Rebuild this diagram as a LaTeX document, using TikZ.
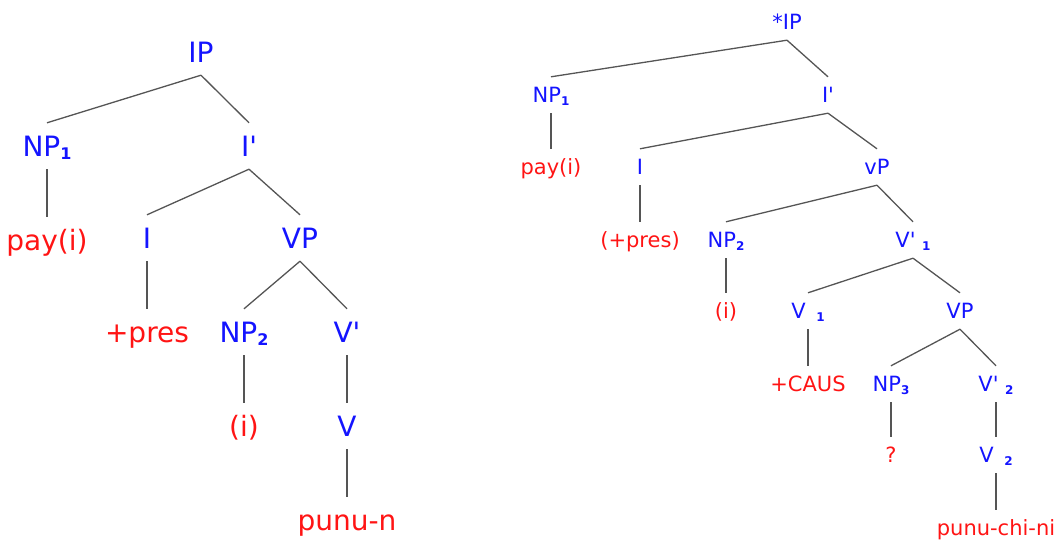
\documentclass[tikz,border=0pt]{standalone}
\usepackage{fontspec}
\setmainfont{DejaVu Sans}
\usepackage{xcolor}

\definecolor{catblue}{RGB}{20,20,255}
\definecolor{wordred}{RGB}{255,20,20}
\definecolor{branchgray}{RGB}{85,85,85}

% subscripts for the two tree sizes
\newcommand{\bigsub}[1]{\raisebox{-3pt}{\fontsize{16}{16}\selectfont\bfseries #1}}
\newcommand{\smallsub}[1]{\raisebox{-3pt}{\fontsize{12}{12}\selectfont\bfseries #1}}
\newcommand{\barmark}{\textquotesingle}

\tikzset{
  bigtree/.style={font=\fontsize{28}{28}\selectfont, text height=26pt, text depth=6pt, inner xsep=0pt, inner ysep=7pt},
  smalltree/.style={font=\fontsize{21}{21}\selectfont, text height=19.5pt, text depth=4.5pt, inner xsep=0pt, inner ysep=6pt},
  cat/.style={text=catblue},
  word/.style={text=wordred},
  branch/.style={draw=branchgray, line width=1.3pt},
}

\begin{document}
\begin{tikzpicture}[x=1pt,y=-1pt]
        \useasboundingbox (0,0) rectangle (1061,541);
        % Left tree: plain sentence
        \node[bigtree,cat] (IP) at (201,52) {IP};
        \node[bigtree,cat] (NPa) at (47,146) {NP\bigsub{1}};
        \node[bigtree,cat] (Ibar) at (249,146) {I\barmark};
        \node[bigtree,word] (pay) at (47,240) {pay(i)};
        \node[bigtree,cat] (I) at (147,238) {I};
        \node[bigtree,cat] (VP) at (300,238) {VP};
        \node[bigtree,word] (pres) at (147,332) {+pres};
        \node[bigtree,cat] (NPb) at (244,332) {NP\bigsub{2}};
        \node[bigtree,cat] (Vbar) at (347,332) {V\barmark~};
        \node[bigtree,word] (i) at (244,426) {(i)};
        \node[bigtree,cat] (V) at (347,426) {V~};
        \node[bigtree,word] (punu) at (347,520) {punu-n};
        \draw[branch] (IP.south) -- (NPa.north);
        \draw[branch] (IP.south) -- (Ibar.north);
        \draw[branch] (NPa.south) -- (pay.north);
        \draw[branch] (Ibar.south) -- (I.north);
        \draw[branch] (Ibar.south) -- (VP.north);
        \draw[branch] (I.south) -- (pres.north);
        \draw[branch] (VP.south) -- (NPb.north);
        \draw[branch] (VP.south) -- (Vbar.north);
        \draw[branch] (NPb.south) -- (i.north);
        \draw[branch] (Vbar.south) -- (V.north);
        \draw[branch] (V.south) -- (punu.north);
        % Right tree: causative with extra vP shell
        \node[smalltree,cat] (sIP) at (787,22) {*IP};
        \node[smalltree,cat] (sNPa) at (551,95) {NP\smallsub{1}};
        \node[smalltree,cat] (sIbar) at (828,95) {I\barmark};
        \node[smalltree,word] (spay) at (551,167) {pay(i)};
        \node[smalltree,cat] (sI) at (640,167) {I};
        \node[smalltree,cat] (svP) at (877,167) {vP};
        \node[smalltree,word] (spres) at (640,240) {(+pres)};
        \node[smalltree,cat] (sNPb) at (726,240) {NP\smallsub{2}};
        \node[smalltree,cat] (sVbara) at (913,240) {V\barmark{} \smallsub{1}};
        \node[smalltree,word] (si) at (726,311) {(i)};
        \node[smalltree,cat] (sVa) at (808,311) {V\hspace{0.5em}\smallsub{1}};
        \node[smalltree,cat] (sVP) at (960,311) {VP};
        \node[smalltree,word] (caus) at (808,384) {+CAUS};
        \node[smalltree,cat] (sNPc) at (891,384) {NP\smallsub{3}};
        \node[smalltree,cat] (sVbarb) at (996,384) {V\barmark{} \smallsub{2}};
        \node[smalltree,word] (q) at (891,455) {?};
        \node[smalltree,cat] (sVb) at (996,455) {V\hspace{0.5em}\smallsub{2}};
        \node[smalltree,word] (spunu) at (996,528) {punu-chi-ni};
        \draw[branch] (sIP.south) -- (sNPa.north);
        \draw[branch] (sIP.south) -- (sIbar.north);
        \draw[branch] (sNPa.south) -- (spay.north);
        \draw[branch] (sIbar.south) -- (sI.north);
        \draw[branch] (sIbar.south) -- (svP.north);
        \draw[branch] (sI.south) -- (spres.north);
        \draw[branch] (svP.south) -- (sNPb.north);
        \draw[branch] (svP.south) -- (sVbara.north);
        \draw[branch] (sNPb.south) -- (si.north);
        \draw[branch] (sVbara.south) -- (sVa.north);
        \draw[branch] (sVbara.south) -- (sVP.north);
        \draw[branch] (sVa.south) -- (caus.north);
        \draw[branch] (sVP.south) -- (sNPc.north);
        \draw[branch] (sVP.south) -- (sVbarb.north);
        \draw[branch] (sNPc.south) -- (q.north);
        \draw[branch] (sVbarb.south) -- (sVb.north);
        \draw[branch] (sVb.south) -- (spunu.north);
\end{tikzpicture}
\end{document}
